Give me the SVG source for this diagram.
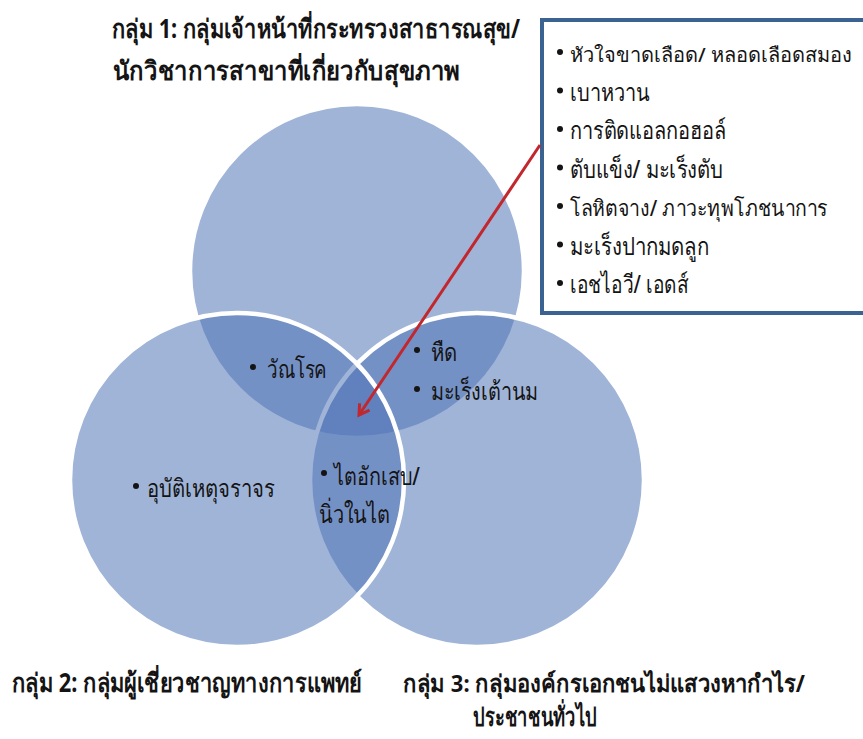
<svg xmlns="http://www.w3.org/2000/svg" width="863" height="739" viewBox="0 0 863 739">
<defs>
<style>
.c{fill:#4F74B7;fill-opacity:0.54;stroke:#ffffff;stroke-width:4.5}
.t{font-family:"Noto Sans","DejaVu Sans",sans-serif;fill:#141414}
.h{font-size:26px;font-weight:bold}
.b{font-size:25px;font-weight:500}
.s{font-size:22px}
.d{fill:#141414}
</style>
<marker id="ah" markerWidth="14" markerHeight="14" refX="11" refY="7" orient="auto" markerUnits="userSpaceOnUse">
<polyline points="1,1 11,7 1,13" fill="none" stroke="#C1272D" stroke-width="3"/>
</marker>
</defs>
<rect width="863" height="739" fill="#ffffff"/>
<g id="circle-group1"><circle class="c" cx="357" cy="271" r="167"/></g>
<g id="circle-group3"><circle class="c" cx="477" cy="480" r="167"/></g>
<g id="circle-group2"><circle class="c" cx="237" cy="480" r="167"/></g>

<g id="title-group1">
<text class="t h" x="112" y="38" textLength="408" lengthAdjust="spacingAndGlyphs">กลุ่ม 1: กลุ่มเจ้าหน้าที่กระทรวงสาธารณสุข/</text>
<text class="t h" x="113" y="80" textLength="347" lengthAdjust="spacingAndGlyphs">นักวิชาการสาขาที่เกี่ยวกับสุขภาพ</text>
</g>
<g id="title-group2">
<text class="t h" x="12" y="692" textLength="350" lengthAdjust="spacingAndGlyphs">กลุ่ม 2: กลุ่มผู้เชี่ยวชาญทางการแพทย์</text>
</g>
<g id="title-group3">
<text class="t h" x="403" y="692" textLength="402" lengthAdjust="spacingAndGlyphs" style="font-size:24px">กลุ่ม 3: กลุ่มองค์กรเอกชนไม่แสวงหากำไร/</text>
<text class="t h" x="473" y="726" textLength="124" lengthAdjust="spacingAndGlyphs">ประชาชนทั่วไป</text>
</g>

<g id="box">
<rect x="542" y="20" width="340" height="293" fill="#ffffff" stroke="#3B6391" stroke-width="4"/>
<circle class="d" cx="560" cy="52" r="3"/><text class="t b" x="570" y="62" textLength="282" lengthAdjust="spacingAndGlyphs" style="font-size:20px">หัวใจขาดเลือด/ หลอดเลือดสมอง</text>
<circle class="d" cx="560" cy="90.5" r="3"/><text class="t b" x="570" y="100.5" textLength="80" lengthAdjust="spacingAndGlyphs">เบาหวาน</text>
<circle class="d" cx="560" cy="129" r="3"/><text class="t b" x="570" y="139" textLength="156" lengthAdjust="spacingAndGlyphs">การติดแอลกอฮอล์</text>
<circle class="d" cx="560" cy="167.5" r="3"/><text class="t b" x="570" y="177.5" textLength="153" lengthAdjust="spacingAndGlyphs">ตับแข็ง/ มะเร็งตับ</text>
<circle class="d" cx="560" cy="206" r="3"/><text class="t b s" x="570" y="216" textLength="258" lengthAdjust="spacingAndGlyphs">โลหิตจาง/ ภาวะทุพโภชนาการ</text>
<circle class="d" cx="560" cy="244.5" r="3"/><text class="t b" x="570" y="254.5" textLength="139" lengthAdjust="spacingAndGlyphs">มะเร็งปากมดลูก</text>
<circle class="d" cx="560" cy="283" r="3"/><text class="t b" x="570" y="293" textLength="118" lengthAdjust="spacingAndGlyphs">เอชไอวี/ เอดส์</text>
</g>

<g id="labels">
<circle class="d" cx="253" cy="367" r="3"/><text class="t b" x="267" y="378" textLength="60" lengthAdjust="spacingAndGlyphs">วัณโรค</text>
<circle class="d" cx="417" cy="350" r="3"/><text class="t b" x="431" y="361" textLength="26" lengthAdjust="spacingAndGlyphs">หืด</text>
<circle class="d" cx="417" cy="389" r="3"/><text class="t b" x="431" y="400" textLength="107" lengthAdjust="spacingAndGlyphs">มะเร็งเต้านม</text>
<circle class="d" cx="136" cy="486" r="3"/><text class="t b" x="147" y="497" textLength="128" lengthAdjust="spacingAndGlyphs">อุบัติเหตุจราจร</text>
<circle class="d" cx="324" cy="473" r="3"/><text class="t b" x="334" y="485" textLength="86" lengthAdjust="spacingAndGlyphs">ไตอักเสบ/</text>
<text class="t b" x="319" y="523" textLength="71" lengthAdjust="spacingAndGlyphs">นิ่วในไต</text>
</g>

<g id="connectors">
<line x1="540" y1="145" x2="359" y2="415" stroke="#C1272D" stroke-width="3" marker-end="url(#ah)"/>
</g>
</svg>
